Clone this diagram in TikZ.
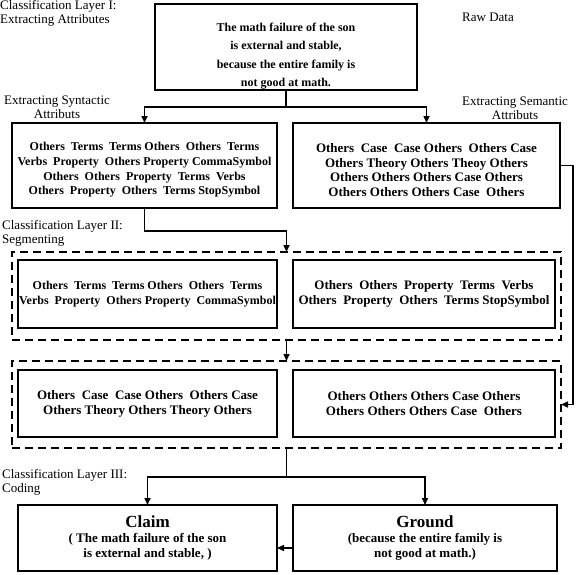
\documentclass[tikz,border=0pt]{standalone}
\usepackage{fontspec}
\setmainfont{Liberation Serif}
\usetikzlibrary{arrows.meta}
\begin{document}
\begin{tikzpicture}[x=1pt,y=-1pt,
  frame/.style={draw, line width=1.8pt, rectangle, inner sep=0pt, outer sep=0pt},
  box/.style={frame, align=center, font=\fontsize{12}{14.7}\selectfont\bfseries},
  bigbox/.style={frame, align=center, font=\fontsize{13}{15}\selectfont\bfseries},
  btext/.style={inner sep=0pt, align=center, font=\fontsize{12}{14.7}\selectfont\bfseries},
  bigtext/.style={inner sep=0pt, align=center, font=\fontsize{13}{14.7}\selectfont\bfseries},
  toptext/.style={btext, font=\fontsize{12}{18.5}\selectfont\bfseries},
  dbox/.style={draw, line width=1.5pt, dash pattern=on 8pt off 5pt, rectangle, inner sep=0pt, outer sep=0pt},
  lbl/.style={font=\fontsize{13}{14}\selectfont, inner sep=0pt},
  conn/.style={line width=1.5pt},
  arr/.style={line width=1.5pt, -{Triangle[length=7pt,width=6pt]}}
]
\useasboundingbox (0,0) rectangle (576,574);

% labels
\node[lbl, anchor=north west, align=left] (lab1) at (0,0) {Classification Layer I:\\Extracting Attributes};
\node[lbl] (raw) at (488,17) {Raw Data};
\node[lbl, align=center] (syn) at (57,107.5) {Extracting Syntactic\\Attributs};
\node[lbl, align=center] (sem) at (515,108) {Extracting Semantic\\Attributs};
\node[lbl, anchor=west, align=left] (lab2) at (2,233) {Classification Layer II:\\Segmenting};
\node[lbl, anchor=west, align=left] (lab3) at (2,482) {Classification Layer III:\\Coding};

% top box
\node[frame, minimum width=262pt, minimum height=86pt] (top) at (286,47) {};
\node[toptext] (topt) at (286,56)
  {The math failure of the son\\is external and stable,\\because the entire family is\\not good at math.};

% first row
\node[frame, minimum width=265pt, minimum height=85pt] (L1) at (144.5,165.5) {};
\node[btext] (L1t) at (144.5,170)
  {Others\ \ Terms\ \ Terms Others\ \ Others\ \ Terms\\
   Verbs\ \ Property\ \ Others Property CommaSymbol\\
   Others\ \ Others\ \ Property\ \ Terms\ \ Verbs\\
   Others\ \ Property\ \ Others\ \ Terms StopSymbol};
\node[frame, minimum width=267pt, minimum height=85pt] (R1) at (426.5,165.5) {};
\node[bigtext] (R1t) at (426.5,170)
  {Others\ \ Case\ \ Case Others\ \ Others Case\\
   Others Theory Others Theoy Others\\
   Others Others Others Case Others\\
   Others Others Others Case\ \ Others};

% segmenting layer
\node[dbox, minimum width=549pt, minimum height=88pt] (D1) at (286.5,296) {};
\node[box, minimum width=259pt, minimum height=68pt] (D1a) at (147.5,294)
  {Others\ \ Terms\ \ Terms Others\ \ Others\ \ Terms\\
   Verbs\ \ Property\ \ Others Property\ \ CommaSymbol};
\node[bigbox, minimum width=262pt, minimum height=68pt] (D1b) at (424,294)
  {Others\ \ Others\ \ Property\ \ Terms\ \ Verbs\\
   Others\ \ Property\ \ Others\ \ Terms StopSymbol};

\node[dbox, minimum width=549pt, minimum height=87pt] (D2) at (286.5,404.5) {};
\node[bigbox, minimum width=259pt, minimum height=67pt] (D2a) at (147.5,403.5)
  {Others\ \ Case\ \ Case Others\ \ Others Case\\
   Others Theory Others Theory Others};
\node[bigbox, minimum width=262pt, minimum height=67pt] (D2b) at (424,403.5)
  {Others Others Others Case Others\\
   Others Others Others Case\ \ Others};

% coding layer
\node[bigbox, minimum width=259pt, minimum height=66pt] (claim) at (147.5,538)
  {{\fontsize{17}{18}\selectfont Claim}\\( The math failure of the son\\is external and stable, )};
\node[bigbox, minimum width=264pt, minimum height=66pt] (ground) at (425,538)
  {{\fontsize{17}{18}\selectfont Ground}\\(because the entire family is\\not good at math.)};

% connectors
\coordinate (j1) at (286,107);
\draw[conn] (top.south) -- (j1);
\draw[arr] (j1) -| (L1.north);
\draw[arr] (j1) -| (R1.north);

\coordinate (j2) at (286.5,231);
\draw[arr] (L1.south) |- (j2) -- (D1.north);

\coordinate (j3) at (573,0);
\draw[arr] (R1.east) -- (R1.east -| j3) |- (D2.east);

\draw[arr] (D1.south) -- (D2.north);

\coordinate (j4) at (286.5,477);
\draw[conn] (D2.south) -- (j4);
\draw[arr] (j4) -| (claim.north);
\draw[arr] (j4) -| (ground.north);

\draw[arr] ([yshift=-10pt]ground.west) -- ([yshift=-10pt]claim.east);
\end{tikzpicture}
\end{document}
